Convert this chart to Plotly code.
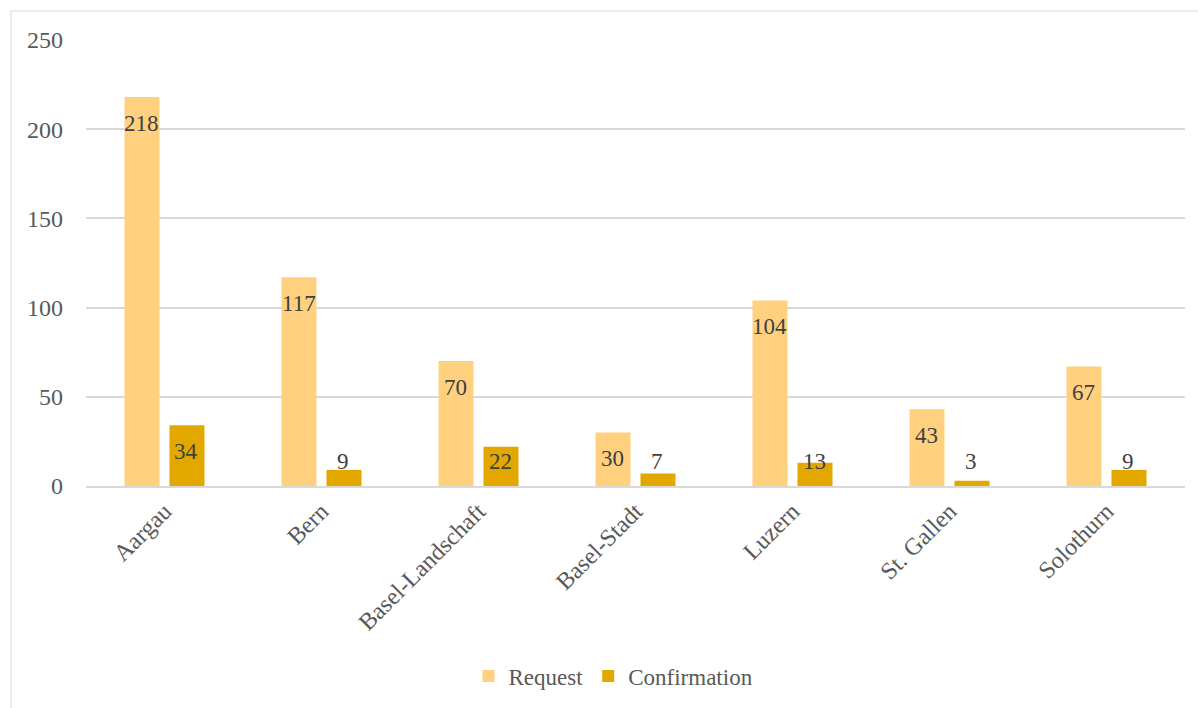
import plotly.graph_objects as go

categories = ["Aargau", "Bern", "Basel-Landschaft", "Basel-Stadt", "Luzern", "St. Gallen", "Solothurn"]
request = [218, 117, 70, 30, 104, 43, 67]
confirmation = [34, 9, 22, 7, 13, 3, 9]
y_ticks = [0, 50, 100, 150, 200, 250]

FONT = "Liberation Serif, Times New Roman, serif"
TXT = "#404040"
AX = "#595959"

L, R, T, B = 86, 13, 40, 221
W, H = 1198, 708
pw, ph = W - L - R, H - T - B
BARGAP, GROUPGAP = 0.427, 0.222
YMAX = 250
px_per_unit = ph / YMAX
slot = pw / len(categories) * (1 - BARGAP) / 2  # px width of each bar slot

fig = go.Figure()
fig.add_trace(go.Bar(name="Request", x=categories, y=request,
                     marker=dict(color="#FFD17F", line=dict(width=0))))
fig.add_trace(go.Bar(name="Confirmation", x=categories, y=confirmation,
                     marker=dict(color="#E2A800", line=dict(width=0))))

# Excel-like "inside end" data labels (clamped above the base for short bars)
annotations = []
for series, sign in ((request, -1), (confirmation, 1)):
    for cat, v in zip(categories, series):
        inside = v * px_per_unit >= 51
        annotations.append(dict(
            x=cat, y=v if inside else 0, xref="x", yref="y",
            text=str(v), showarrow=False,
            xshift=sign * slot / 2 - 0.5, yshift=-26 if inside else 25,
            yanchor="middle", xanchor="center",
            font=dict(family=FONT, size=23, color=TXT)))

fig.update_layout(
    width=W, height=H,
    margin=dict(l=L, r=R, t=T, b=B, pad=0),
    paper_bgcolor="white", plot_bgcolor="white",
    barmode="group", bargap=BARGAP, bargroupgap=GROUPGAP,
    font=dict(family=FONT, size=23, color=AX),
    showlegend=True,
    legend=dict(orientation="h", x=0.5 - 22 / pw, xanchor="center", y=-(676 - 487) / ph, yanchor="middle",
                font=dict(family=FONT, size=23, color=AX), itemwidth=30,
                traceorder="normal"),
    xaxis=dict(tickangle=-45, showgrid=False, showline=True, linecolor="#D9D9D9", linewidth=1.5,
               ticks="", tickfont=dict(family=FONT, size=24, color=AX)),
    yaxis=dict(range=[0, YMAX], tickvals=y_ticks, showgrid=True, gridcolor="#D9D9D9", gridwidth=1.5,
               zeroline=False, showline=False, ticks="", ticklabelstandoff=22,
               tickfont=dict(family=FONT, size=24, color=AX)),
    annotations=annotations,
    shapes=[dict(type="rect", xref="paper", yref="paper",
                 x0=(11 - L) / pw, x1=(W + 5 - L) / pw,
                 y0=-(H + 5 - T - ph) / ph, y1=1 + (T - 11) / ph,
                 line=dict(color="#D9D9D9", width=1), fillcolor="rgba(0,0,0,0)", layer="below")],
)

fig.write_html("out.html")
